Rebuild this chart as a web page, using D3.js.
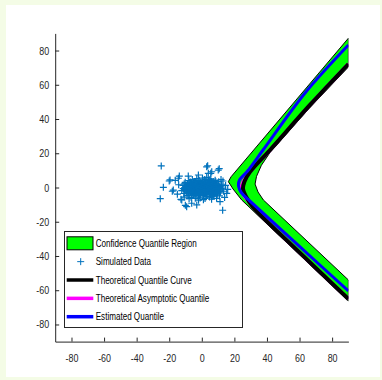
<!DOCTYPE html>
<html>
<head>
<meta charset="utf-8">
<style>
body { margin: 0; background: #f4fce6; }
text { font-family: "Liberation Sans", Arial, sans-serif; fill: #262626; }
.axis path, .axis line { stroke: #262626; }
</style>
</head>
<body>
<svg id="chart" width="382" height="380"></svg>
<script src="https://d3js.org/d3.v7.min.js"></script>
<script>
// ticks
var xTicks = [-80, -60, -40, -20, 0, 20, 40, 60, 80];
var yTicks = [-80, -60, -40, -20, 0, 20, 40, 60, 80];

// simulated data (x, y)
var simData = [
  [-10.5,-1.2],[-9.8,0.8],[-9.1,-2.7],[-8.7,1.9],[-8.2,-0.4],[-7.9,-3.8],[-7.4,2.6],[-7.0,-1.6],[-6.6,0.3],[-6.2,-4.4],
  [-5.9,1.4],[-5.5,-2.2],[-5.1,3.1],[-4.8,-0.9],[-4.4,-3.3],[-4.1,0.7],[-3.7,2.2],[-3.3,-1.8],[-3.0,-4.9],[-2.6,0.1],
  [-2.2,3.5],[-1.9,-2.8],[-1.5,1.3],[-1.1,-0.6],[-0.7,-3.9],[-0.3,2.4],[0.1,-1.4],[0.5,0.6],[0.9,-4.6],[1.3,3.0],
  [1.7,-2.1],[2.1,1.1],[2.5,-0.2],[2.9,-3.4],[3.3,2.0],[3.7,-1.1],[4.1,4.0],[4.5,-2.7],[4.9,0.9],[5.3,-4.2],
  [5.7,2.7],[6.1,-0.7],[6.5,1.6],[6.9,-2.3],[7.3,3.4],[7.7,-3.6],[8.1,0.2],[8.5,-1.5],[8.9,2.1],[9.3,-0.3],
  [9.7,-2.9],[10.1,1.2],[10.6,-1.0],[11.2,0.5],
  [-9.4,-0.1],[-8.5,-1.9],[-7.6,0.9],[-6.8,-2.9],[-6.0,-0.8],[-5.2,1.9],[-4.6,-1.5],[-3.9,-2.6],[-3.5,0.4],[-2.8,1.7],
  [-2.4,-1.1],[-1.7,-3.3],[-1.3,0.5],[-0.9,2.9],[-0.5,-2.0],[0.0,0.9],[0.3,-3.0],[0.7,1.8],[1.1,-0.9],[1.5,-3.8],
  [1.9,2.3],[2.3,-1.6],[2.7,0.4],[3.1,-4.1],[3.5,1.5],[3.9,-0.5],[4.3,2.8],[4.7,-1.9],[5.1,0.1],[5.5,-3.1],
  [5.9,1.0],[6.3,-1.4],[6.7,3.0],[7.1,-0.2],[7.5,1.9],[7.9,-2.6],[8.3,1.0],[8.7,-0.8],[9.1,0.6],[9.6,-1.8],
  [-8.8,-1.0],[-8.3,0.6],[-7.9,-2.2],[-7.2,1.5],[-7.1,-0.6],[-6.7,-1.9],[-6.4,2.0],[-6.1,0.7],[-5.7,-3.4],[-5.6,-0.3],
  [-5.3,1.0],[-4.9,-2.6],[-4.5,2.5],[-4.3,-0.2],[-4.0,1.4],[-3.6,-3.8],[-3.4,-0.9],[-3.1,0.9],[-2.9,-2.2],[-2.5,2.6],
  [-2.3,-0.3],[-2.0,-4.1],[-1.8,1.0],[-1.6,-1.5],[-1.2,-2.6],[-1.0,1.9],[-0.8,-0.1],[-0.4,-3.2],[-0.2,1.2],[0.2,-2.3],
  [0.4,2.8],[0.6,-0.6],[0.8,-3.5],[1.0,1.4],[1.2,-1.8],[1.4,0.2],[1.6,2.1],[1.8,-2.9],[2.0,-0.4],[2.2,3.3],
  [2.4,-2.4],[2.6,1.6],[2.8,-1.1],[3.0,0.8],[3.2,-2.7],[3.4,3.1],[3.6,-0.1],[3.8,-3.9],[4.0,1.2],[4.2,-1.4],
  [4.4,0.3],[4.6,2.2],[4.8,-3.2],[5.0,-0.8],[5.2,1.7],[5.4,-1.9],[5.6,0.5],[5.8,3.5],[6.0,-2.8],[6.2,0.1],
  [6.4,-3.7],[6.6,2.4],[6.8,-0.9],[7.0,1.1],[7.2,-1.8],[7.4,-4.3],[7.6,0.6],[7.8,2.6],[8.0,-1.2],[8.2,-3.1],
  [8.4,0.4],[8.6,-2.2],[8.8,1.6],[9.0,-0.5],[9.2,-3.6],[9.4,1.8],[9.8,-0.9],[10.2,-2.1],[10.4,0.2],[10.9,-3.2],
  [-9.6,-2.2],[-10.0,0.1],[-9.2,1.4],[-8.0,-3.0],[-6.9,3.2],[-5.0,-4.1],[-3.8,3.4],[-1.4,-4.8],[0.6,3.9],[2.6,-5.2],
  [4.4,4.6],[6.4,-5.1],[8.6,3.3],[11.6,-1.5],[12.0,0.9],[-11.4,-0.6],[-10.8,2.2],[-1.6,4.2],[1.8,4.6],[5.0,3.8],
  [-12.3,-1.8],[-11.6,1.2],[-11.0,-3.5],[-10.2,3.0],[-9.0,-4.8],[-8.0,4.1],[-6.5,-5.8],[-5.8,4.6],[-4.0,-6.3],[-3.1,5.2],
  [-1.0,-6.1],[0.4,5.5],[2.0,-6.4],[3.0,5.9],[4.8,-5.6],[5.5,5.0],[7.0,-5.0],[8.2,4.2],[9.4,-4.3],[10.4,3.4],
  [11.5,-2.6],[12.2,1.9],[12.8,-0.4],[13.4,-2.2],[11.8,4.6],[-7.8,-6.5],[-2.0,-7.4],[1.0,-7.1],[6.0,-6.8],[-10.8,-5.6],
  [10.8,-4.9],
  [-24.9,12.6],[-25.5,-6.5],[-23.6,0.1],[-20.0,3.8],[-18.1,-2.2],[-16.3,4.2],[-13.8,6.7],[-12.8,-6.9],[-10.1,-10.4],[-8.3,6.7],
  [3.6,12.7],[10.7,11.0],[12.8,-13.3],[15.9,-1.1],[13.0,3.8],[5.5,8.3],[29.6,10.2],[-19.5,4.4],[-17.5,-1.5],[-14.4,5.4],
  [-12.3,-7.3],[-9.3,-11.2],[3.0,12.1],[10.1,10.2],[15.3,-3.4],[4.0,8.3],[-2.1,7.3],[6.1,9.2],[11.2,-8.3],[9.1,-6.3],
  [-3.1,-10.2],[-6.2,-9.2],[-15.0,-3.9],[-14.2,1.6],[14.6,1.2],[14.0,-5.8]
];

// confidence region boundary (outer then inner edge)
var regionBoundary = [
  [16.3,3.4],[18.0,6.3],[90,87.2],[90,70.4],[66,46.3],[42,20.6],[36.6,13.0],[33.6,6.5],
  [32.7,2.0],[34.5,-2.6],[37.8,-7.3],[90,-54.0],[90,-66.3],[24.5,-7.3],[19.2,-0.9]
];

// quantile curves
var theoreticalCurve = [
  [90,72.1],[66.4,48.2],[41.9,21.9],[29.6,9.1],[26.2,3.5],[25.3,-0.9],[27,-5],[31.4,-11.4],[60.3,-38.2],[90,-65.1]
];
var asymptoticCurve = [
  [90,72.1],[66.4,48.2],[41.9,21.9],[29.0,8.4],[25.0,2.5],[24.4,-1.5],[26.3,-5.2],[31.4,-11.4],[60.3,-38.2],[90,-65.1]
];
var estimatedCurve = [
  [90,83.2],[63.4,55.2],[37.6,21.9],[28,9.5],[23.2,4.5],[22.5,1.5],[23.2,-1.2],[25.0,-3.8],[29.6,-7.9],[60.3,-34.7],[90,-60.4]
];

var legendLabels = ["Confidence Quantile Region", "Simulated Data", "Theoretical Quantile Curve",
                    "Theoretical Asymptotic Quantile", "Estimated Quantile"];

var svg = d3.select("#chart");
svg.append("rect").attr("width", 382).attr("height", 380).attr("fill", "#f4fce6");
svg.append("rect").attr("x", 6).attr("y", 5).attr("width", 374).attr("height", 372).attr("fill", "#fff");

var mLeft = 55.2, mTop = 33.4, pw = 293.2, ph = 308.2;
var squeeze = "scale(0.81,1)";
var x = d3.scaleLinear().domain([-90, 90]).range([mLeft, mLeft + pw]);
var y = d3.scaleLinear().domain([-90, 90]).range([mTop + ph, mTop]);

svg.append("clipPath").attr("id", "clip")
  .append("rect").attr("x", mLeft).attr("y", mTop).attr("width", pw).attr("height", ph);

var plot = svg.append("g").attr("clip-path", "url(#clip)");

var line = d3.line().x(function(d) { return x(d[0]); }).y(function(d) { return y(d[1]); });

plot.append("path")
  .attr("d", line(regionBoundary) + "Z")
  .attr("fill", "#00ff00")
  .attr("stroke", "#000")
  .attr("stroke-width", 1);

plot.append("g").selectAll("path")
  .data(simData)
  .enter().append("path")
  .attr("transform", function(d) { return "translate(" + x(d[0]) + "," + y(d[1]) + ")"; })
  .attr("d", "M-3.5,0H3.5M0,-3.5V3.5")
  .attr("stroke", "#0072bd")
  .attr("stroke-width", 1.2)
  .attr("fill", "none");

var smooth = d3.line().curve(d3.curveCatmullRom.alpha(0.5))
  .x(function(d) { return x(d[0]); }).y(function(d) { return y(d[1]); });

// asymptotic curve sits under the theoretical one, only showing near the vertex
plot.append("path").attr("d", smooth(asymptoticCurve))
  .attr("fill", "none").attr("stroke", "#ff00ff").attr("stroke-width", 3.5);
plot.append("path").attr("d", smooth(theoreticalCurve))
  .attr("fill", "none").attr("stroke", "#000").attr("stroke-width", 4);
plot.append("path").attr("d", smooth(estimatedCurve))
  .attr("fill", "none").attr("stroke", "#0000ff").attr("stroke-width", 3);

var fmt = function(d) { return String(d); };

svg.append("g").attr("class", "axis")
  .attr("transform", "translate(0," + (mTop + ph) + ")")
  .call(d3.axisBottom(x).tickValues(xTicks).tickFormat(fmt).tickSizeInner(-4).tickSizeOuter(0).tickPadding(13))
  .call(function(g) {
    g.selectAll("text").attr("font-size", 11).attr("font-family", null).attr("transform", squeeze);
  });

svg.append("g").attr("class", "axis")
  .attr("transform", "translate(" + mLeft + ",0)")
  .call(d3.axisLeft(y).tickValues(yTicks).tickFormat(fmt).tickSizeInner(-4).tickSizeOuter(0).tickPadding(7.4))
  .call(function(g) {
    g.selectAll("text").attr("font-size", 11).attr("font-family", null).attr("transform", squeeze);
  });

// legend
var legend = svg.append("g");
legend.append("rect")
  .attr("x", 64.5).attr("y", 231.5).attr("width", 178).attr("height", 96)
  .attr("fill", "#fff").attr("stroke", "#262626").attr("stroke-width", 1);

var rowY = d3.scalePoint().domain(legendLabels).range([243.3, 316.7]);

legend.append("rect")
  .attr("x", 67).attr("y", rowY(legendLabels[0]) - 6.5).attr("width", 26).attr("height", 13)
  .attr("fill", "#00ff00").attr("stroke", "#000").attr("stroke-width", 1);
legend.append("path")
  .attr("transform", "translate(80.7," + rowY(legendLabels[1]) + ")")
  .attr("d", "M-3.5,0H3.5M0,-3.5V3.5").attr("stroke", "#0072bd").attr("stroke-width", 1);
var legendColors = ["#000", "#ff00ff", "#0000ff"];
legend.selectAll("line.sample")
  .data(legendLabels.slice(2))
  .enter().append("line").attr("class", "sample")
  .attr("x1", 66.7).attr("x2", 93.3)
  .attr("y1", function(d) { return rowY(d); }).attr("y2", function(d) { return rowY(d); })
  .attr("stroke", function(d, i) { return legendColors[i]; })
  .attr("stroke-width", 3.5);

legend.selectAll("text")
  .data(legendLabels)
  .enter().append("text")
  .attr("transform", function(d) { return "translate(95.7," + rowY(d) + ") " + squeeze; })
  .attr("dy", "0.35em")
  .attr("font-size", 10)
  .style("fill", "#000")
  .text(function(d) { return d; });
</script>
</body>
</html>
